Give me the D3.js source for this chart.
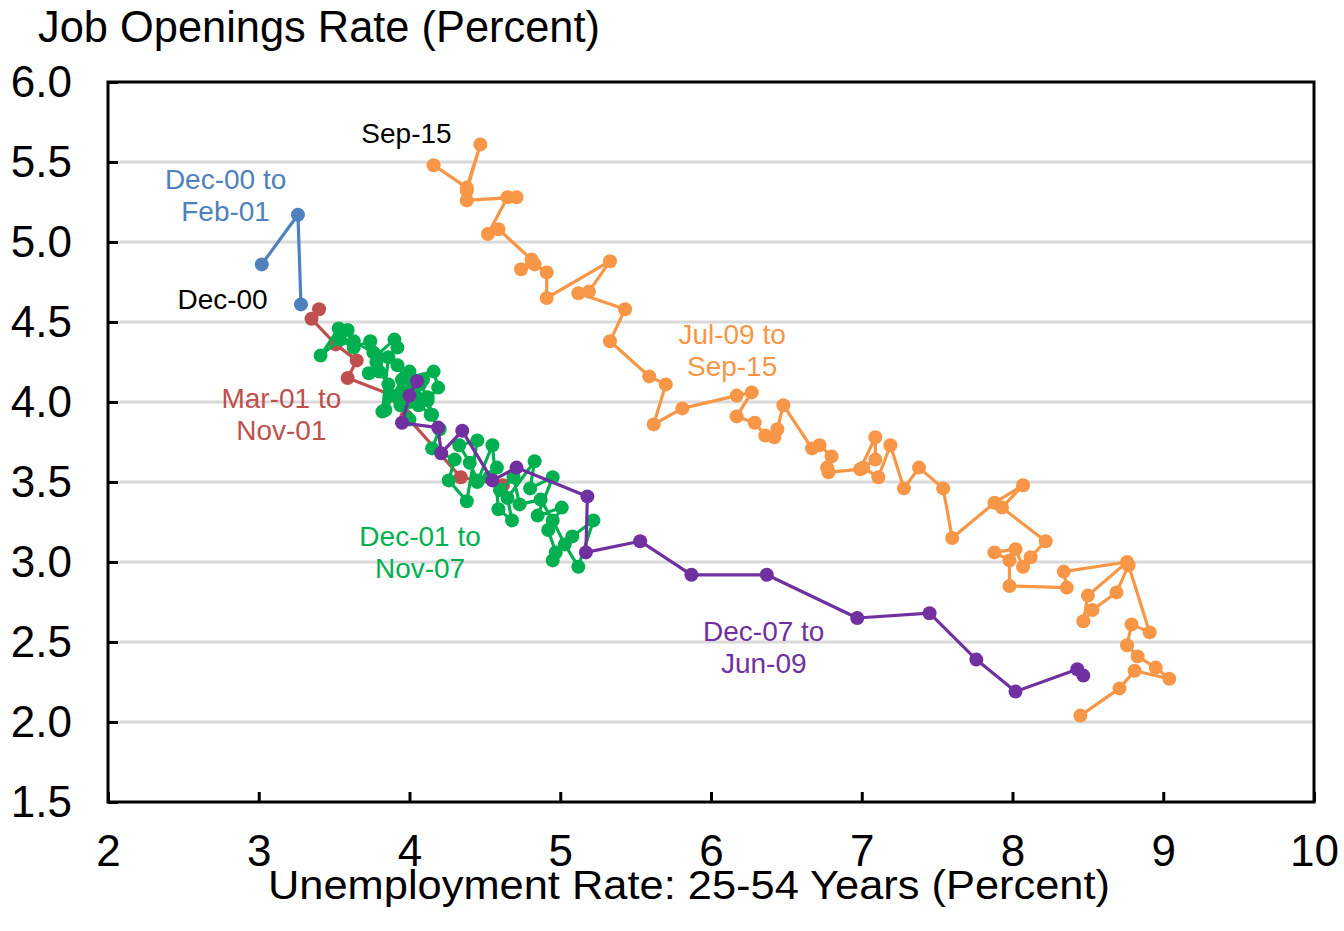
<!DOCTYPE html>
<html>
<head>
<meta charset="utf-8">
<script src="https://cdn.jsdelivr.net/npm/d3@7"></script>
<style>
  body { margin: 0; background: #fff; }
  text { font-family: "Liberation Sans", Arial, sans-serif; }
</style>
</head>
<body>
<script>
//axis tick values
var xTicks = [2, 3, 4, 5, 6, 7, 8, 9, 10];
var yTicks = [1.5, 2.0, 2.5, 3.0, 3.5, 4.0, 4.5, 5.0, 5.5, 6.0];

//[unemployment rate 25-54, job openings rate], monthly
var blueData = [[3.02,4.86],[3.26,5.17],[3.28,4.61]]; //Dec-00 to Feb-01

var redData = [[3.40,4.58],[3.35,4.52],[3.51,4.36],[3.65,4.26],[3.59,4.15],
  [3.92,4.03],[3.98,3.91],[4.34,3.53],[4.62,3.48]]; //Mar-01 to Nov-01

var greenData = [[4.58,3.59],[4.45,3.50],[4.55,3.73],[4.59,3.33],[4.68,3.26],[4.65,3.40],[4.83,3.63],[4.80,3.46],[4.95,3.53],[4.85,3.29],
  [5.01,3.34],[4.92,3.20],[4.97,3.06],[4.95,3.01],[5.08,3.16],[5.22,3.26],[5.12,2.97],[5.03,3.11],[4.95,3.26],[4.87,3.39],
  [4.73,3.36],[4.69,3.53],[4.60,3.45],[4.53,3.53],[4.45,3.51],[4.40,3.62],[4.33,3.73],[4.45,3.76],[4.38,3.38],[4.26,3.51],
  [4.30,3.64],[4.15,3.71],[4.20,3.83],[4.14,3.92],[4.12,4.01],[4.19,4.09],[4.16,4.19],[3.95,4.14],[3.84,3.95],[3.86,4.11],
  [3.80,4.19],[3.73,4.18],[3.78,4.25],[3.76,4.31],[3.63,4.38],[3.59,4.45],[3.53,4.46],[3.41,4.29],[3.54,4.39],[3.63,4.34],
  [3.74,4.38],[3.78,4.29],[3.90,4.39],[3.92,4.34],[3.86,4.28],[3.82,3.94],[3.88,4.04],[3.96,4.06],[4.00,4.00],[4.07,4.11],
  [4.12,4.03],[4.15,3.92],[4.06,3.98],[3.97,4.15],[3.92,4.23],[4.00,4.19],[4.09,4.14],[4.04,4.04],[3.94,3.98],[4.00,3.89],
  [3.97,4.01],[4.02,4.11]]; //Dec-01 to Nov-07

var purpleData = [[4.05,4.13],[4.00,4.04],[3.95,3.87],[4.19,3.84],[4.21,3.68],[4.35,3.82],[4.55,3.51],[4.71,3.59],
  [5.18,3.41],[5.17,3.06],[5.53,3.13],[5.87,2.92],[6.37,2.92],[6.97,2.65],[7.45,2.68],[7.76,2.39],[8.02,2.19],
  [8.43,2.33],[8.47,2.29]]; //Dec-07 to Jun-09

var orangeData = [[8.45,2.04],[8.71,2.21],[8.81,2.32],[9.04,2.27],[8.95,2.34],[8.83,2.41],[8.76,2.48],[8.79,2.61],[8.91,2.56],[8.77,2.98],
  [8.69,2.81],[8.53,2.70],[8.47,2.63],[8.50,2.79],[8.76,3.00],[8.34,2.94],[8.36,2.84],[7.98,2.85],[7.98,3.01],[7.88,3.06],
  [8.02,3.08],[8.07,2.97],[8.12,3.03],[8.22,3.13],[7.93,3.34],[8.07,3.48],[7.88,3.37],[7.60,3.15],[7.54,3.46],[7.38,3.59],
  [7.28,3.46],[7.19,3.73],[7.11,3.53],[7.01,3.59],[7.09,3.64],[7.09,3.78],[6.99,3.58],[6.78,3.56],[6.77,3.59],[6.80,3.66],
  [6.72,3.73],[6.67,3.71],[6.48,3.98],[6.44,3.83],[6.42,3.78],[6.36,3.79],[6.29,3.87],[6.17,3.91],[6.27,4.06],[6.17,4.04],
  [5.81,3.96],[5.62,3.86],[5.70,4.11],[5.59,4.16],[5.33,4.38],[5.43,4.58],[5.12,4.68],[5.19,4.69],[5.33,4.88],[4.91,4.65],
  [4.91,4.81],[4.83,4.86],[4.74,4.83],[4.81,4.89],[4.59,5.08],[4.52,5.05],[4.65,5.28],[4.71,5.28],[4.38,5.26],[4.38,5.32],
  [4.47,5.61],[4.38,5.34],[4.16,5.48]]; //Jul-09 to Sep-15

//series drawn in date order so later ones sit on top
var seriesList = [
  {name: "blue", data: blueData, color: "#4F81BD"},
  {name: "red", data: redData, color: "#C0504D"},
  {name: "green", data: greenData, color: "#00B050"},
  {name: "purple", data: purpleData, color: "#7030A0"},
  {name: "orange", data: orangeData, color: "#F79646"}
];

//period labels, placed in data units
var periodLabels = [
  {lines: ["Dec-00 to", "Feb-01"], x: 2.78, y: 5.39, color: "#4F81BD"},
  {lines: ["Dec-00"], x: 2.76, y: 4.64, color: "#000000"},
  {lines: ["Sep-15"], x: 3.98, y: 5.68, color: "#000000"},
  {lines: ["Mar-01 to", "Nov-01"], x: 3.15, y: 4.025, color: "#C0504D"},
  {lines: ["Jul-09 to", "Sep-15"], x: 6.14, y: 4.425, color: "#F79646"},
  {lines: ["Dec-01 to", "Nov-07"], x: 4.07, y: 3.16, color: "#00B050"},
  {lines: ["Dec-07 to", "Jun-09"], x: 6.35, y: 2.57, color: "#7030A0"}
];

window.onload = function(){
    var width = 1344, height = 931;
    var left = 108, right = 1314, top = 82, bottom = 802;

    var svg = d3.select("body")
        .append("svg")
        .attr("width", width)
        .attr("height", height);

    var x = d3.scaleLinear().domain([2, 10]).range([left, right]);
    var y = d3.scaleLinear().domain([1.5, 6]).range([bottom, top]);

    //horizontal gridlines
    svg.selectAll(".grid")
        .data(yTicks.filter(function(d){ return d > 1.5 && d < 6; }))
        .enter()
        .append("line")
        .attr("class", "grid")
        .attr("x1", left)
        .attr("x2", right)
        .attr("y1", function(d){ return y(d); })
        .attr("y2", function(d){ return y(d); })
        .style("stroke", "#D9D9D9")
        .style("stroke-width", 3);

    //axes, ticks point inward
    var yAxis = d3.axisLeft(y)
        .tickValues(yTicks)
        .tickFormat(d3.format(".1f"))
        .tickSizeInner(-10)
        .tickSizeOuter(0)
        .tickPadding(36);

    var xAxis = d3.axisBottom(x)
        .tickValues(xTicks)
        .tickFormat(d3.format("d"))
        .tickSizeInner(-10)
        .tickSizeOuter(0)
        .tickPadding(33);

    var gy = svg.append("g")
        .attr("transform", "translate(" + left + ",0)")
        .call(yAxis);

    var gx = svg.append("g")
        .attr("transform", "translate(0," + bottom + ")")
        .call(xAxis);

    [gx, gy].forEach(function(g){
        g.select(".domain").remove();
        g.selectAll(".tick line").style("stroke", "#000").style("stroke-width", 3);
        g.selectAll(".tick text")
            .style("font-family", "'Liberation Sans', Arial, sans-serif")
            .style("font-size", "44px")
            .style("fill", "#000");
    });

    //plot frame
    svg.append("rect")
        .attr("x", left)
        .attr("y", top)
        .attr("width", right - left)
        .attr("height", bottom - top)
        .style("fill", "none")
        .style("stroke", "#000")
        .style("stroke-width", 3);

    //lines and markers
    var line = d3.line()
        .x(function(d){ return x(d[0]); })
        .y(function(d){ return y(d[1]); });

    seriesList.forEach(function(s){
        var g = svg.append("g").attr("class", s.name);
        g.append("path")
            .datum(s.data)
            .attr("d", line)
            .style("fill", "none")
            .style("stroke", s.color)
            .style("stroke-width", 3.2)
            .style("stroke-linejoin", "round");
        g.selectAll("circle")
            .data(s.data)
            .enter()
            .append("circle")
            .attr("cx", function(d){ return x(d[0]); })
            .attr("cy", function(d){ return y(d[1]); })
            .attr("r", 7)
            .style("fill", s.color);
    });

    //period labels
    periodLabels.forEach(function(lab){
        var t = svg.append("text")
            .attr("x", x(lab.x))
            .attr("y", y(lab.y))
            .attr("text-anchor", "middle")
            .style("font-size", "28px")
            .style("fill", lab.color);
        lab.lines.forEach(function(str, i){
            t.append("tspan")
                .attr("x", x(lab.x))
                .attr("dy", i === 0 ? "0.35em" : "1.14em")
                .text(str);
        });
    });

    //axis titles
    svg.append("text")
        .attr("x", 38)
        .attr("y", 42)
        .style("font-size", "44px")
        .attr("textLength", 562)
        .attr("lengthAdjust", "spacingAndGlyphs")
        .text("Job Openings Rate (Percent)");

    svg.append("text")
        .attr("x", 268)
        .attr("y", 899)
        .style("font-size", "40px")
        .attr("textLength", 842)
        .attr("lengthAdjust", "spacingAndGlyphs")
        .text("Unemployment Rate: 25-54 Years  (Percent)");
};
</script>
</body>
</html>
